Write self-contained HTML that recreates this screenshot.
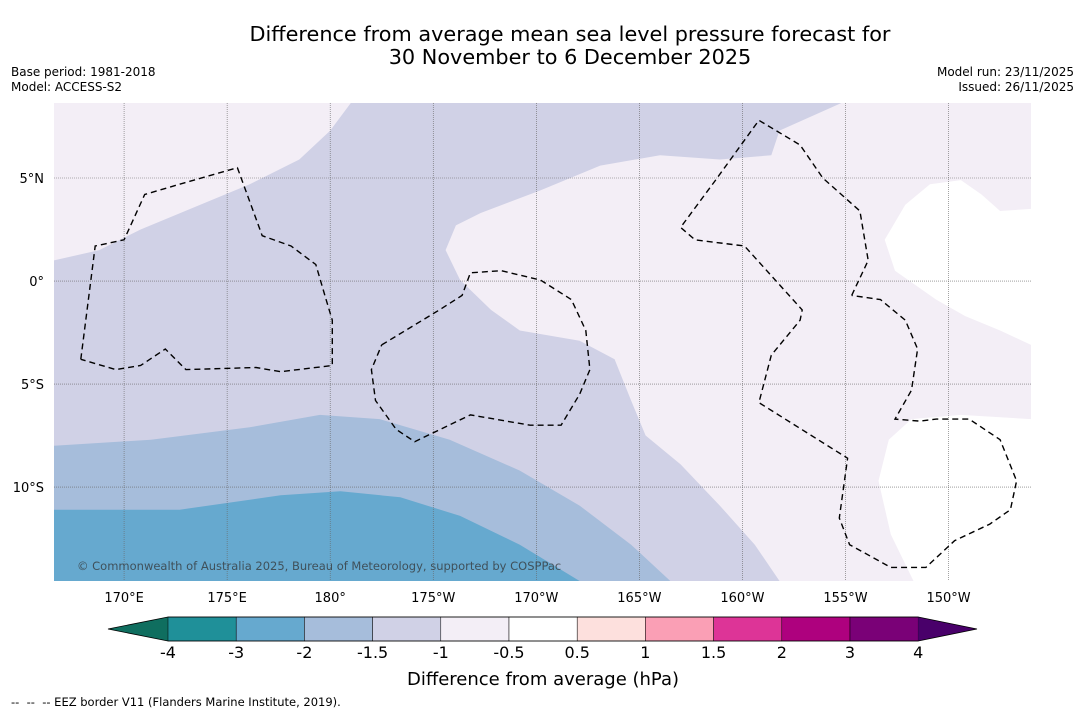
<!DOCTYPE html>
<html><head><meta charset="utf-8">
<style>
html,body{margin:0;padding:0;background:#fff;width:1085px;height:713px;overflow:hidden;font-family:"DejaVu Sans","Liberation Sans",sans-serif;}
svg{display:block}
</style></head>
<body>
<svg id="fig" width="1085" height="713" viewBox="0 0 1085 713" xmlns="http://www.w3.org/2000/svg">
<rect x="0" y="0" width="1085" height="713" fill="#fff"/>
<text x="570" y="41" text-anchor="middle" font-size="20.8" fill="#000">Difference from average mean sea level pressure forecast for</text>
<text x="570" y="64" text-anchor="middle" font-size="20.8" fill="#000">30 November to 6 December 2025</text>
<text x="11" y="76" font-size="12">Base period: 1981-2018</text>
<text x="11" y="91" font-size="12">Model: ACCESS-S2</text>
<text x="1074" y="76" font-size="12" text-anchor="end">Model run: 23/11/2025</text>
<text x="1074" y="91" font-size="12" text-anchor="end">Issued: 26/11/2025</text>
<defs><clipPath id="mapclip"><rect x="54" y="103" width="977" height="478"/></clipPath></defs>
<g id="map" clip-path="url(#mapclip)"></g>
<g id="axes"></g>
<g id="cbar"></g>
<text x="543" y="685" text-anchor="middle" font-size="18">Difference from average (hPa)</text>
<text x="11" y="706" font-size="11.5" style="white-space:pre">--  --  -- EEZ border V11 (Flanders Marine Institute, 2019).</text>
</svg>
<script>
// Map extent (degrees east 0-360, latitude)
const lonMin = 166.6, lonMax = 214.0, latMin = -14.56, latMax = 8.64;
const lonTicks = [170,175,180,185,190,195,200,205,210];
const lonTickLabels = ["170°E","175°E","180°","175°W","170°W","165°W","160°W","155°W","150°W"];
const latTicks = [5,0,-5,-10];
const latTickLabels = ["5°N","0°","5°S","10°S"];
// Contour fill regions [lon,lat]
const regionMinus15 = [[166.6,1.0],[168.8,1.5],[170.8,2.5],[173.7,3.7],[176.1,4.7],[178.5,5.9],[180.0,7.3],[181.0,8.64],[204.8,8.64],[201.8,7.3],[201.4,6.1],[198.9,5.9],[196.0,6.1],[193.1,5.6],[190.2,4.4],[187.3,3.3],[186.1,2.7],[185.6,1.5],[186.3,0.05],[187.8,-1.4],[189.2,-2.4],[192.1,-2.9],[193.8,-3.8],[194.6,-5.8],[195.3,-7.5],[197.0,-8.9],[198.9,-10.9],[200.6,-12.8],[201.8,-14.56],[166.6,-14.56]];
const regionMinus2 = [[166.6,-8.0],[171.3,-7.7],[176.1,-7.1],[179.5,-6.5],[182.4,-6.7],[185.8,-7.7],[189.2,-9.2],[192.1,-10.9],[194.6,-12.8],[196.5,-14.56],[166.6,-14.56]];
const regionMinus3 = [[166.6,-11.1],[172.7,-11.1],[177.6,-10.4],[180.5,-10.2],[183.4,-10.5],[186.3,-11.4],[189.2,-12.8],[192.1,-14.56],[166.6,-14.56]];
const regionNeutralNorth = [[214.0,3.5],[212.5,3.4],[211.6,4.2],[210.6,4.9],[209.1,4.7],[207.9,3.7],[206.9,2.0],[207.4,0.5],[209.4,-0.9],[210.8,-1.7],[212.5,-2.4],[214.0,-3.1]];
const regionNeutralSouth = [[214.0,-6.7],[210.6,-6.5],[208.2,-6.7],[207.1,-7.7],[206.6,-9.7],[207.2,-12.3],[208.3,-14.56],[214.0,-14.56]];
// EEZ borders
const eezWest = [[167.9,-3.8],[168.6,1.7],[170.0,2.0],[171.0,4.2],[172.7,4.7],[175.5,5.5],[176.7,2.2],[178.1,1.7],[179.3,0.8],[179.8,-0.9],[180.1,-1.9],[180.1,-4.1],[177.6,-4.4],[176.4,-4.2],[173.0,-4.3],[172.0,-3.3],[170.8,-4.1],[169.6,-4.3],[167.9,-3.8]];
const eezMid = [[182.5,-3.1],[185.3,-1.4],[186.4,-0.7],[186.8,0.4],[188.3,0.5],[190.2,0.05],[191.7,-0.9],[192.4,-2.4],[192.6,-4.3],[192.1,-5.5],[191.2,-7.0],[189.7,-7.0],[186.8,-6.5],[184.1,-7.8],[183.2,-7.2],[182.2,-5.8],[182.0,-4.3],[182.5,-3.1]];
const eezEast = [[205.3,-0.7],[206.1,1.0],[205.7,3.4],[203.9,5.0],[202.8,6.6],[200.8,7.8],[198.7,4.9],[197.0,2.6],[197.7,2.0],[200.1,1.7],[202.9,-1.4],[202.8,-1.9],[201.4,-3.6],[200.8,-5.9],[205.1,-8.6],[204.7,-11.5],[205.2,-12.8],[207.2,-13.9],[208.9,-13.9],[210.3,-12.6],[212.0,-11.8],[213.0,-11.1],[213.3,-9.7],[212.5,-7.7],[211.0,-6.7],[209.4,-6.7],[208.6,-6.8],[207.4,-6.7],[208.2,-5.3],[208.5,-3.3],[207.9,-1.9],[206.7,-0.9],[205.3,-0.7]];
// Colorbar
const cbarLevels = ["-4","-3","-2","-1.5","-1","-0.5","0.5","1","1.5","2","3","4"];
const cbarColors = ["#1f9099","#66a9cf","#a6bddb","#d0d1e6","#f3eef6","#ffffff","#fde0dd","#fa9fb5","#dd3497","#ae017e","#7a0177"];
const cbarLow = "#0f6e5f", cbarHigh = "#49006a";

const NS="http://www.w3.org/2000/svg";
const X0=54,X1=1031,Y0=103,Y1=581;
function xS(lon){return X0+(lon-lonMin)/(lonMax-lonMin)*(X1-X0);}
function yS(lat){return Y0+(latMax-lat)/(latMax-latMin)*(Y1-Y0);}
function mk(t,a,parent){const e=document.createElementNS(NS,t);for(const k in a)e.setAttribute(k,a[k]);parent.appendChild(e);return e;}
function pts(arr){return arr.map(p=>xS(p[0]).toFixed(1)+","+yS(p[1]).toFixed(1)).join(" ");}
const map=document.getElementById("map"),axes=document.getElementById("axes"),cb=document.getElementById("cbar");
let r=mk("rect",{x:X0,y:Y0,width:X1-X0,height:Y1-Y0,fill:"#f3eef6"},map);


const fills=[[regionMinus15,"#d0d1e6","region-minus15-to-minus1"],[regionMinus2,"#a6bddb","region-minus2-to-minus15"],[regionMinus3,"#66a9cf","region-minus3-to-minus2"],[regionNeutralNorth,"#ffffff","region-neutral-north"],[regionNeutralSouth,"#ffffff","region-neutral-south"]];
fills.forEach(f=>{const p=mk("polygon",{points:pts(f[0]),fill:f[1]},map);

});
lonTicks.forEach((lon,i)=>{const l=mk("line",{x1:xS(lon),x2:xS(lon),y1:Y0,y2:Y1,stroke:"#666","stroke-width":0.6,"stroke-dasharray":"1,1"},map);


const t=mk("text",{x:xS(lon),y:602,"text-anchor":"middle","font-size":13},axes);t.textContent=lonTickLabels[i];

});
latTicks.forEach((lat,i)=>{const l=mk("line",{x1:X0,x2:X1,y1:yS(lat),y2:yS(lat),stroke:"#666","stroke-width":0.6,"stroke-dasharray":"1,1"},map);


const t=mk("text",{x:44,y:yS(lat)+5,"text-anchor":"end","font-size":13},axes);t.textContent=latTickLabels[i];

});
[[eezWest,"eez-border-west"],[eezMid,"eez-border-central"],[eezEast,"eez-border-east"]].forEach(e=>{const p=mk("polyline",{points:pts(e[0]),fill:"none",stroke:"#000","stroke-width":1.4,"stroke-dasharray":"6,4"},map);

});
const cr=mk("text",{x:77,y:570,"font-size":11.5,fill:"#333","fill-opacity":0.75},map);cr.textContent="© Commonwealth of Australia 2025, Bureau of Meteorology, supported by COSPPac";


// colorbar
const cx0=168,cw=68.2,cy0=617,ch=24;
const la=mk("polygon",{points:`${cx0},${cy0} ${cx0},${cy0+ch} 108,${cy0+ch/2}`,fill:cbarLow},cb);


cbarColors.forEach((c,i)=>{const b=mk("rect",{x:cx0+i*cw,y:cy0,width:cw,height:ch,fill:c,stroke:"#000","stroke-width":0.5},cb);

});
const xe=cx0+cbarColors.length*cw;
const ha=mk("polygon",{points:`${xe},${cy0} ${xe},${cy0+ch} 977,${cy0+ch/2}`,fill:cbarHigh},cb);


mk("polygon",{points:`108,${cy0+ch/2} ${cx0},${cy0} ${xe},${cy0} 977,${cy0+ch/2} ${xe},${cy0+ch} ${cx0},${cy0+ch}`,fill:"none",stroke:"#000","stroke-width":0.8},cb);
cbarLevels.forEach((lv,i)=>{const t=mk("text",{x:cx0+i*cw,y:658,"text-anchor":"middle","font-size":16},cb);t.textContent=lv;

});
</script>
</body></html>
